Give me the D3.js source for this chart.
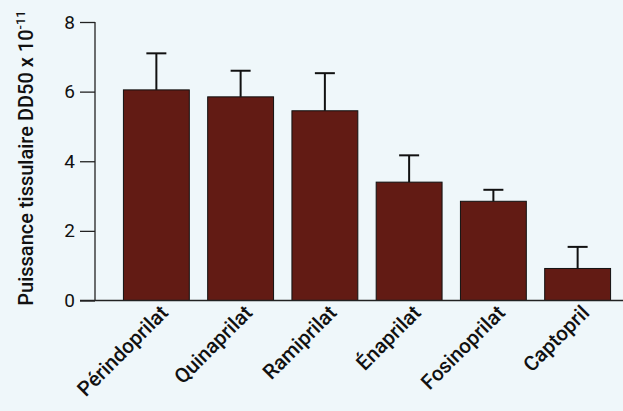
<!DOCTYPE html>
<html>
<head>
<meta charset="utf-8">
<script src="https://cdn.jsdelivr.net/npm/d3@7"></script>
<style>
  body { margin: 0; background: #eff7fa; }
  svg { display: block; }
  text { font-family: Roboto, "Liberation Sans", sans-serif; font-weight: 500; fill: #111; }
</style>
</head>
<body>
<div id="chart"></div>
<script>
  // data
  const drugs = ['Périndoprilat', 'Quinaprilat', 'Ramiprilat', 'Énaprilat', 'Fosinoprilat', 'Captopril'];
  const potency = [6.05, 5.85, 5.45, 3.4, 2.85, 0.92];
  const errors = [1.05, 0.75, 1.08, 0.77, 0.33, 0.62];
  const yTicks = [0, 2, 4, 6, 8];

  const w = 623;
  const h = 411;
  const axisX = 95;

  let viz = d3.select('#chart').append('svg')
      .attr('width', w)
      .attr('height', h)
      .style('background-color', '#eff7fa');

  const x = d3.scaleBand()
      .domain(drugs)
      .range([115, 619])
      .paddingInner(0.218)
      .paddingOuter(0.1);

  const y = d3.scaleLinear()
      .domain([0, 8])
      .range([300.5, 22]);

  //y axis
  const yAxis = viz.append('g')
      .attr('transform', 'translate(' + axisX + ',0)')
      .call(d3.axisLeft(y).tickValues(yTicks).tickSize(15).tickPadding(5).tickFormat(d3.format('d')));
  yAxis.select('.domain').attr('d', 'M0,' + y(8) + 'V' + y(0)).attr('stroke', '#222').attr('stroke-width', 1.3);
  yAxis.selectAll('.tick line').attr('stroke', '#222').attr('stroke-width', 1.3);
  yAxis.selectAll('.tick text')
      .style('font-size', '19px')
      .style('font-family', 'Roboto, sans-serif')
      .style('font-weight', 400)
      .attr('fill', '#111');

  //bars
  viz.selectAll('.bar')
    .data(drugs)
    .enter()
    .append('rect')
      .attr('class', 'bar')
      .attr('x', d => x(d))
      .attr('y', (d, i) => y(potency[i]))
      .attr('width', x.bandwidth())
      .attr('height', (d, i) => y(0) - y(potency[i]))
      .attr('fill', '#621b14')
      .attr('stroke', '#111')
      .attr('stroke-width', 1);

  //error bars
  const errG = viz.selectAll('.err')
    .data(drugs)
    .enter()
    .append('g')
      .attr('class', 'err');
  errG.append('line')
      .attr('x1', d => x(d) + x.bandwidth() / 2)
      .attr('x2', d => x(d) + x.bandwidth() / 2)
      .attr('y1', (d, i) => y(potency[i]))
      .attr('y2', (d, i) => y(potency[i] + errors[i]))
      .attr('stroke', '#111')
      .attr('stroke-width', 2);
  errG.append('line')
      .attr('x1', d => x(d) + x.bandwidth() / 2 - 10)
      .attr('x2', d => x(d) + x.bandwidth() / 2 + 10)
      .attr('y1', (d, i) => y(potency[i] + errors[i]))
      .attr('y2', (d, i) => y(potency[i] + errors[i]))
      .attr('stroke', '#111')
      .attr('stroke-width', 2);

  //x axis baseline
  viz.append('line')
      .attr('x1', 80)
      .attr('x2', w)
      .attr('y1', y(0))
      .attr('y2', y(0))
      .attr('stroke', '#222')
      .attr('stroke-width', 1.5);

  //category labels
  viz.selectAll('.xlabel')
    .data(drugs)
    .enter()
    .append('text')
      .attr('class', 'xlabel')
      .attr('text-anchor', 'end')
      .attr('transform', d => 'translate(' + (x(d) + x.bandwidth() / 2 + 13) + ',' + 314 + ') rotate(-45)')
      .style('font-size', '20.5px')
      .text(d => d);

  //axis title
  const title = viz.append('text')
      .attr('text-anchor', 'middle')
      .attr('transform', 'translate(33,158) rotate(-90)')
      .style('font-size', '20px');
  title.append('tspan').text('Puissance tissulaire DD50 x 10');
  title.append('tspan').attr('dy', -8).style('font-size', '13px').text('-11');
</script>
</body>
</html>
